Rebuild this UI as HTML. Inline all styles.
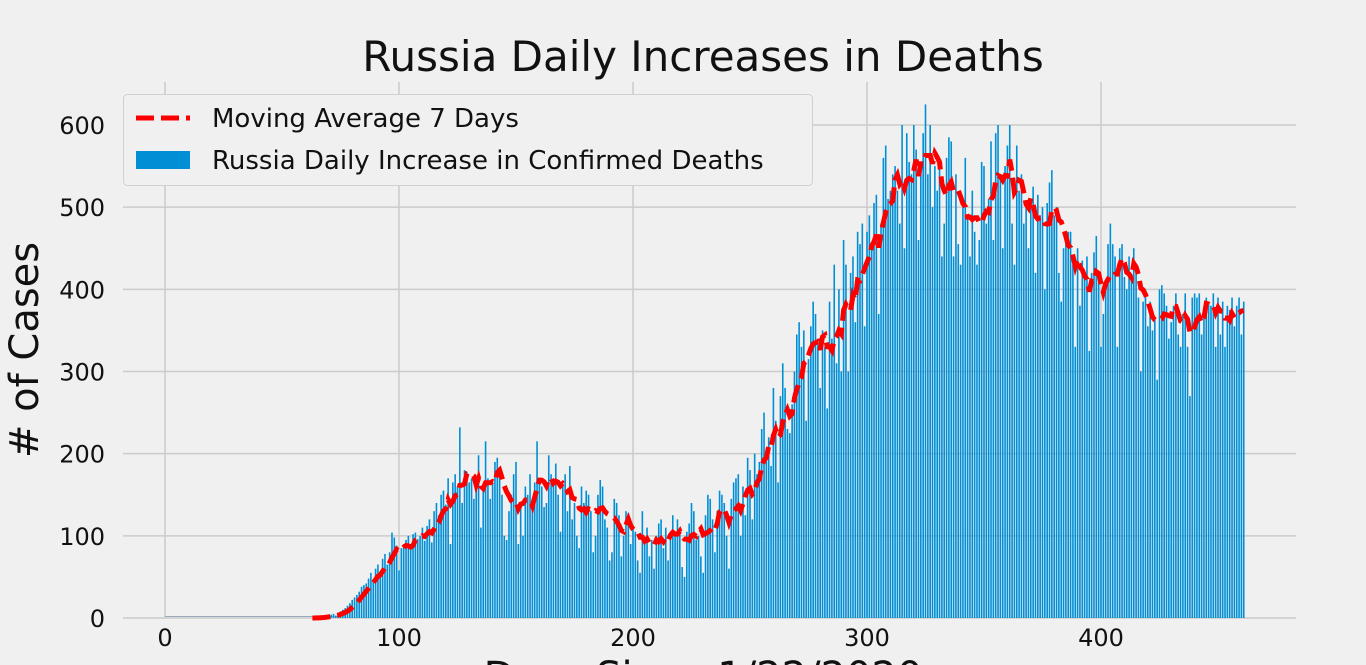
<!DOCTYPE html>
<html><head><meta charset="utf-8"><style>
html,body{margin:0;background:#f0f0f0;overflow:hidden;width:1366px;height:665px;}
svg{display:block;font-family:"DejaVu Sans","Liberation Sans",sans-serif;}
</style></head><body>
<svg id="c" width="1366" height="665">
<rect width="1366" height="665" fill="#f0f0f0"/>
<g id="grid"></g>
<line x1="165" y1="616.5" x2="340" y2="616.5" stroke="#9ab" stroke-width="1"/>
<g id="bars"></g><g id="line"></g><g id="ticks"></g>
<text x="703" y="71" font-size="42" text-anchor="middle" fill="#111">Russia Daily Increases in Deaths</text>
<text transform="translate(38,350) rotate(-90)" font-size="40" text-anchor="middle" fill="#111"># of Cases</text>
<text x="703" y="690" font-size="40" text-anchor="middle" fill="#111">Days Since 1/22/2020</text>
<g>
<rect x="123.5" y="94.5" width="689" height="91" rx="4" fill="#f0f0f0" stroke="#d0d0d0"/>
<line x1="136" y1="118" x2="190" y2="118" stroke="#fc0000" stroke-width="5" stroke-dasharray="18,7"/>
<text x="212" y="127" font-size="26" fill="#111">Moving Average 7 Days</text>
<rect x="136" y="151" width="54" height="18" fill="#008fd5"/>
<text x="212" y="169" font-size="26" fill="#111">Russia Daily Increase in Confirmed Deaths</text>
</g>
</svg>
<script>
const zeros = new Array(65).fill(0);
const dailyDeaths = zeros.concat([
1,0,2,1,3,2,4,5,3,6,8,
10,12,15,18,22,25,28,32,38,40,
42,48,55,45,60,65,52,72,78,65,80,104,98,88,
58,85,90,95,100,88,102,104,96,100,110,
94,112,120,92,130,140,125,150,155,138,
170,90,165,175,160,232,140,180,178,165,
170,145,155,198,110,160,215,170,145,165,
190,195,180,150,100,95,130,150,175,190,
90,140,100,160,150,175,140,165,215,170,
160,135,140,198,175,170,188,150,105,160,
175,130,185,120,140,100,85,160,140,155,
150,130,80,100,150,168,160,120,110,70,
80,145,140,125,75,100,130,128,90,110,
105,70,55,130,95,110,75,95,60,100,
115,120,85,110,70,105,125,100,120,110,
62,50,105,115,140,130,95,100,75,55,
125,150,145,120,80,130,155,150,140,100,
60,145,165,170,175,100,160,125,195,180,
120,200,175,190,230,250,200,220,185,280,
240,165,270,310,280,230,225,260,300,345,
360,330,350,240,315,355,385,370,340,280,
350,330,255,385,340,430,310,400,300,460,
430,300,420,440,360,470,455,480,355,470,
490,450,505,515,370,480,560,575,510,520,
540,550,520,480,600,450,590,555,540,600,
570,460,555,590,625,540,600,500,550,520,
550,440,480,560,585,580,440,540,455,430,
500,560,490,440,520,470,430,460,555,550,
480,510,580,460,590,600,540,450,550,575,
600,480,430,575,520,540,480,500,450,510,
525,420,515,490,500,400,505,530,545,490,
500,420,385,450,460,470,470,430,330,450,
380,435,420,440,325,420,445,465,420,330,
370,400,455,480,455,440,330,450,455,415,
400,440,410,450,420,390,300,385,400,355,
385,350,365,290,400,405,395,380,340,360,
380,395,345,330,370,395,330,270,390,395,
390,395,345,375,390,385,380,395,330,390,
345,385,330,380,375,390,355,380,390,345,385]);
const xTicks = [0,100,200,300,400];
const yTicks = [0,100,200,300,400,500,600];
const maStart = 63;
const NS="http://www.w3.org/2000/svg";
const xs = d => 165 + d*2.34;
const ys = v => 618 - v*0.8217;
function mk(tag, attrs, parent){const e=document.createElementNS(NS,tag);for(const k in attrs)e.setAttribute(k,attrs[k]);document.getElementById(parent).appendChild(e);return e;}
yTicks.forEach(t=>{
  const l=mk('line',{x1:123,x2:1296,y1:ys(t),y2:ys(t),stroke:'#cbcbcb','stroke-width':1.5},'grid');
  
  
  const tx=mk('text',{x:105,y:ys(t)+9,'font-size':24,'text-anchor':'end',fill:'#111'},'ticks');
  tx.textContent=t;
  
  
});
xTicks.forEach(t=>{
  const l=mk('line',{x1:xs(t),x2:xs(t),y1:82,y2:618,stroke:'#cbcbcb','stroke-width':1.5},'grid');
  
  
  const tx=mk('text',{x:xs(t),y:646,'font-size':24,'text-anchor':'middle',fill:'#111'},'ticks');
  tx.textContent=t;
  
  
});
dailyDeaths.forEach((v,i)=>{
  const r=mk('rect',{x:xs(i)-0.8,y:ys(v),width:1.6,height:Math.max(0,618-ys(v)),fill:'#008fd5'},'bars');
  
  
});
let pts=[];
dailyDeaths.forEach((v,i)=>{
  if(i<maStart)return;
  let s=0;for(let k=i-6;k<=i;k++)s+=dailyDeaths[k];
  pts.push(xs(i).toFixed(1)+','+ys(s/7).toFixed(1));
});
const p=mk('polyline',{points:pts.join(' '),fill:'none',stroke:'#fc0000','stroke-width':5,'stroke-dasharray':'18,7'},'line');


</script>
</body></html>
